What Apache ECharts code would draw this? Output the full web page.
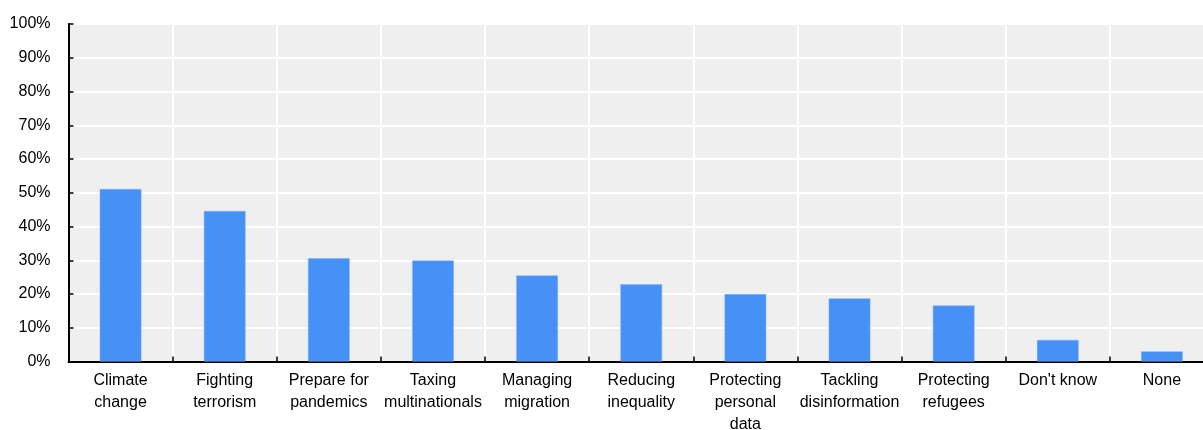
<!DOCTYPE html>
<html>
<head>
<meta charset="utf-8">
<script src="https://cdn.jsdelivr.net/npm/echarts@6/dist/echarts.min.js"></script>
<style>
  html, body { margin: 0; padding: 0; background: #ffffff; overflow: hidden; }
  #chart { width: 1203px; height: 430px; }
</style>
</head>
<body>
<div id="chart"></div>
<script>
// Share of respondents naming each issue (%)
const categories = [
  'Climate\nchange',
  'Fighting\nterrorism',
  'Prepare for\npandemics',
  'Taxing\nmultinationals',
  'Managing\nmigration',
  'Reducing\ninequality',
  'Protecting\npersonal\ndata',
  'Tackling\ndisinformation',
  'Protecting\nrefugees',
  "Don't know",
  'None'
];
const shares = [51.1, 44.6, 30.6, 29.9, 25.5, 22.9, 20.0, 18.7, 16.6, 6.4, 3.0];
const yTicks = { min: 0, max: 100, interval: 10 };

const font = '"Liberation Sans", Arial, sans-serif';
const chart = echarts.init(document.getElementById('chart'), null, { renderer: 'canvas' });

chart.setOption({
  animation: false,
  backgroundColor: '#ffffff',
  grid: {
    left: 68.5,
    top: 24,
    width: 1145.5,
    height: 337.5,
    show: true,
    backgroundColor: '#efefef',
    borderWidth: 0,
    containLabel: false,
    outerBoundsMode: 'none'
  },
  xAxis: {
    type: 'category',
    data: categories,
    boundaryGap: true,
    axisLine: { show: true, lineStyle: { color: '#000000', width: 2 } },
    axisTick: { show: true, inside: true, length: 5, lineStyle: { color: '#000000', width: 1.5 } },
    splitLine: { show: true, lineStyle: { color: '#ffffff', width: 2 } },
    axisLabel: {
      interval: 0,
      margin: 8,
      color: '#000000',
      fontFamily: font,
      fontSize: 16,
      lineHeight: 22
    }
  },
  yAxis: {
    type: 'value',
    min: yTicks.min,
    max: yTicks.max,
    interval: yTicks.interval,
    axisLine: { show: true, lineStyle: { color: '#000000', width: 2 } },
    axisTick: { show: true, inside: true, length: 5, lineStyle: { color: '#000000', width: 1.5 } },
    splitLine: { show: true, lineStyle: { color: '#ffffff', width: 2 } },
    axisLabel: {
      formatter: '{value}%',
      margin: 18,
      color: '#000000',
      fontFamily: font,
      fontSize: 16
    }
  },
  series: [{
    type: 'bar',
    data: shares,
    barWidth: '40%',
    itemStyle: { color: '#4691f6', borderColor: '#7fb0f4', borderWidth: 0.5 }
  }]
});
</script>
</body>
</html>
